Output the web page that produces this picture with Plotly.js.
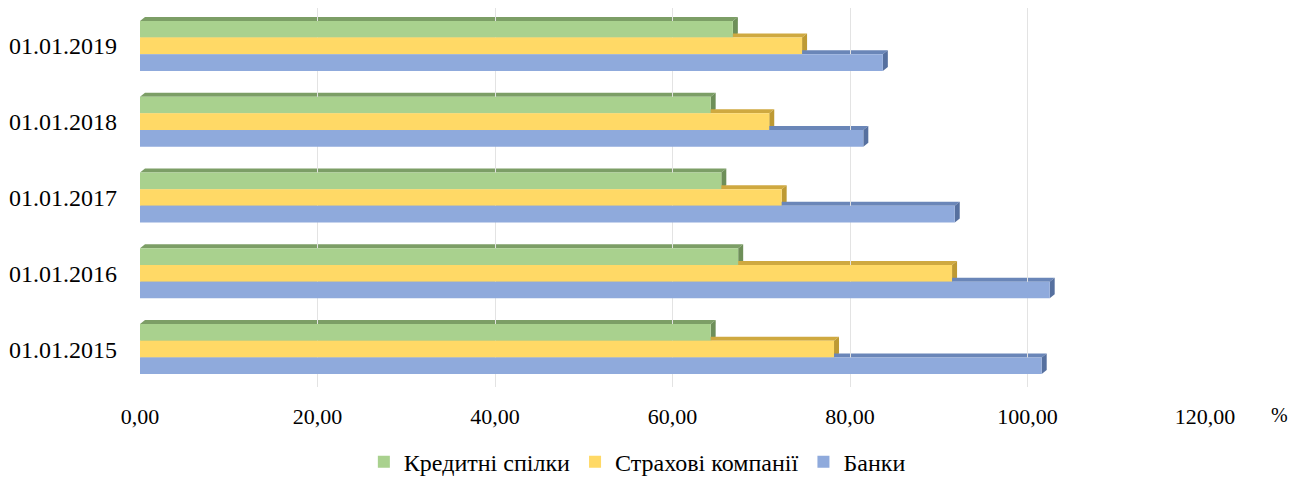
<!DOCTYPE html>
<html>
<head>
<meta charset="utf-8">
<script src="https://cdn.plot.ly/plotly-3.0.1.min.js"></script>
<style>html,body{margin:0;padding:0;background:#fff;}#chart{width:1289px;height:495px;}</style>
</head>
<body>
<div id="chart"></div>
<script>
// ---- data ----
const categories = ['01.01.2015', '01.01.2016', '01.01.2017', '01.01.2018', '01.01.2019'];
const seriesNames = ['Кредитні спілки', 'Страхові компанії', 'Банки'];
const creditUnions = [64.3, 67.4, 65.5, 64.3, 66.8];
const insuranceCompanies = [78.2, 91.5, 72.3, 70.9, 74.6];
const banks = [101.6, 102.5, 91.8, 81.5, 83.7];
const xTickVals = [0, 20, 40, 60, 80, 100, 120];
const xTickText = ['0,00', '20,00', '40,00', '60,00', '80,00', '100,00', '120,00'];

// ---- styling / layout constants ----
const FONT = 'Liberation Serif';
const W = 1289, H = 495;
const margin = {l: 140, r: 84, t: 8, b: 108};
const xRange = [0, 120];
const yRange = [-0.5, categories.length - 0.5];
const plotW = W - margin.l - margin.r;
const plotH = H - margin.t - margin.b;
const depthPxX = 5, depthPxY = 4;
const dX = depthPxX * (xRange[1] - xRange[0]) / plotW;
const dY = depthPxY * (yRange[1] - yRange[0]) / plotH;

const barW = 0.22;
const styles = [
  {values: creditUnions, face: '#A9D18E', top: '#7C9E66', side: '#6E8F59', offset: barW / 2},
  {values: insuranceCompanies, face: '#FFD966', top: '#CFA940', side: '#BE9A33', offset: -barW / 2},
  {values: banks, face: '#8FAADC', top: '#6A86B8', side: '#56709F', offset: -barW * 1.5}
];
const yIdx = categories.map((_, i) => i);

const traces = styles.map((s, k) => ({
  type: 'bar',
  orientation: 'h',
  name: seriesNames[k],
  x: s.values,
  y: yIdx,
  width: barW,
  offset: s.offset,
  marker: {color: s.face, line: {width: 0}},
  hoverinfo: 'x+name'
}));

// pseudo-3D faces (top and right side) built from the data values
const shapes = [];
styles.forEach(s => {
  s.values.forEach((v, i) => {
    const yb = i + s.offset, yt = yb + barW;
    shapes.push({
      type: 'path', xref: 'x', yref: 'y', layer: 'below',
      path: `M0,${yt} L${v},${yt} L${v + dX},${yt + dY} L${dX},${yt + dY} Z`,
      fillcolor: s.top, line: {width: 0}
    });
    shapes.push({
      type: 'path', xref: 'x', yref: 'y', layer: 'below',
      path: `M${v},${yb} L${v},${yt} L${v + dX},${yt + dY} L${v + dX},${yb + dY} Z`,
      fillcolor: s.side, line: {width: 0}
    });
  });
});

const layout = {
  width: W, height: H,
  margin: margin,
  paper_bgcolor: '#ffffff',
  plot_bgcolor: 'rgba(0,0,0,0)',
  font: {family: FONT, color: '#000000', size: 22},
  barmode: 'overlay',
  showlegend: true,
  xaxis: {
    range: xRange,
    tickvals: xTickVals,
    ticktext: xTickText,
    showgrid: true,
    gridcolor: '#E3E3E3',
    gridwidth: 1,
    zeroline: false,
    showline: false,
    ticks: '',
    ticklabelstandoff: 14,
    tickfont: {family: FONT, size: 22, color: '#000000'}
  },
  yaxis: {
    range: yRange,
    tickvals: yIdx,
    ticktext: categories,
    showgrid: false,
    zeroline: false,
    showline: false,
    ticks: '',
    ticklabelstandoff: 22,
    tickfont: {family: FONT, size: 24, color: '#000000'}
  },
  legend: {
    orientation: 'h',
    x: 0.467, xanchor: 'center',
    y: -0.198, yanchor: 'middle',
    font: {family: FONT, size: 24, color: '#000000'},
    itemwidth: 30,
    bgcolor: 'rgba(0,0,0,0)'
  },
  shapes: shapes,
  annotations: [{
    text: '%', xref: 'paper', yref: 'paper',
    x: 1.0704, y: -0.074, xanchor: 'center', yanchor: 'middle',
    showarrow: false, font: {family: FONT, size: 20, color: '#000000'}
  }]
};

Plotly.newPlot('chart', traces, layout, {displayModeBar: false, staticPlot: true});
</script>
</body>
</html>
